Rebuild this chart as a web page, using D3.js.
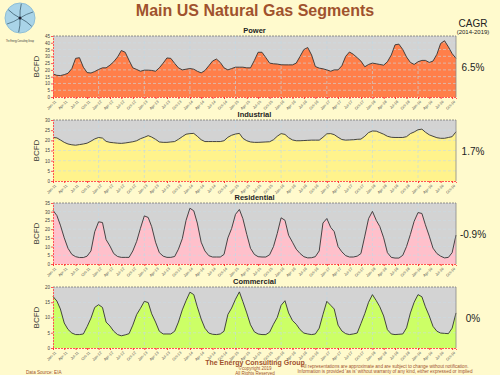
<!DOCTYPE html>
<html>
<head>
<meta charset="utf-8">
<script src="https://cdn.jsdelivr.net/npm/d3@7"></script>
<style>
  body { margin: 0; background: #FFFACD; }
  svg { display: block; font-family: "Liberation Sans", Arial, sans-serif; }
</style>
</head>
<body>
<div id="chart"></div>
<script>
// monthly BCFD, Jan-2011 .. Nov-2019
var power = [17,16,15.8,16.5,17.5,21,28.5,29,22,18,17.7,18.8,
  20.3,21.5,21.5,23.5,26,29.5,34.3,33,27,21.5,20.3,19,
  19.8,19.8,19.6,19,21.5,25,28.8,28.5,24.8,21.5,20,20.5,
  21,20.5,19,17.8,19.5,23,26.5,28,25.5,21.5,20,21,
  22,22,22,21.5,21.5,27,33,33,29,25,24.5,24.3,
  23.8,23.7,23.7,23.7,25,30,35,36.5,31,22.5,21.3,20.8,
  20,19,20,20,23,30,33.2,31.5,29,26.5,22.3,24,
  25,24.5,24,23.5,26,31,38.5,39,35,29.5,25.5,24,
  26,27,27,25.5,26.5,31.5,39.5,41.5,37,32,28.5];
var industrial = [21.4,21.2,20.2,19,18.2,17.8,17.6,17.9,18.2,18.6,19.6,20.7,
  21.4,21.1,19.5,19,18.8,18.6,18.5,18.7,19,19.3,19.8,20.8,
  21.5,22.3,21.6,20.5,19.2,19,19,19.2,19.4,20.5,21.8,23,
  23.3,23.4,22,20.3,19.4,19.4,19.4,19.4,19.4,19.8,21.5,22.5,
  23.1,23.4,21,19.8,19.2,19,19,19.1,19.2,19.3,20.3,22,
  23.3,22.9,21.3,20.2,19.8,19.8,19.9,20,20.1,20.1,20.1,21.5,
  23.2,23.3,22.8,21.5,20.4,20.1,20.2,20.3,20.5,20.6,22,23.8,
  24.6,24.5,23.8,23,22,21.5,21.4,21.4,21.4,21.8,23.3,24.1,
  25.2,25.5,24,22.7,22,21.3,21,21,21.4,21.8,24.2];
var residential = [30.8,27.8,22.3,15,9,5.5,4.2,3.7,3.7,4.5,7.5,18.5,
  24.2,23.8,14,10.3,6,4.3,3.8,3.8,3.8,7.5,13,20.5,
  27.6,26.7,21.4,12.5,6.5,4.5,3.8,3.8,4.3,8.5,14.5,25,
  32,30.5,23.5,12.5,7.5,4.8,4,4,4,5.5,15,20.4,
  28.5,31.3,26,17,9,5.5,4.2,4,4,5.3,10,17.5,
  26.5,25.1,16.5,12.5,8.5,6,4.2,3.5,3.6,4.2,7.5,23.5,
  26.1,21,18.6,10,7,4.8,4,4,4.5,6,16,26,
  30.2,25,21.5,15,6.5,3.8,3.4,3.4,5,10,17,24.5,
  29.5,29,22.5,16,9.1,6,4.5,3.5,3.8,6.5,16.6];
var commercial = [16.9,15.4,12.8,8.2,6.1,4.9,4.4,4.4,4.6,7,9.8,13.3,
  14.2,13.3,8.5,7.2,5.5,4.4,4,4.3,4.7,7.5,11,13,
  15.3,14.9,11.2,8.5,5.5,4.6,4.6,4.6,5.5,8.5,12.5,15.5,
  18.3,17.5,13.5,9.5,6.5,4.9,4.5,4.4,4.6,5.5,11,13.1,
  16,18.4,15.2,11.5,7.6,5.3,4.6,4.4,4.4,5.2,7.8,10,
  14,15.5,11.5,9,7.8,6,4.9,4.6,4.4,4.6,6.5,11,
  15.3,14,12.8,7.5,5.6,4.7,4.4,4.6,4.9,8,11.3,15,
  17.5,15.5,13.5,10.5,6,4.6,4.4,4.5,4.6,6.6,11.5,15,
  17.5,16.8,13.5,10.5,7.1,5.5,4.9,4.8,4.7,6.5,11.5];

var segments = ["Power", "Industrial", "Residential", "Commercial"];
var series = [power, industrial, residential, commercial];
var yMax = [45, 30, 35, 20];
var cagr = ["6.5%", "1.7%", "-0.9%", "0%"];
var fills = ["#FF7F4A", "#FFF38C", "#FFC0CB", "#CCFF66"];
var startMonth = new Date(2011, 0, 1);

var months = power.map(function(d, i) { return d3.timeMonth.offset(startMonth, i); });

var W = 500, H = 375;
var svg = d3.select("#chart").append("svg").attr("width", W).attr("height", H);
svg.append("rect").attr("width", W).attr("height", H).attr("fill", "#FFFACD");

var left = 53, right = 456, panelTop = [36, 120, 203, 287], panelH = 61;

var x = d3.scaleTime()
    .domain([months[0], months[months.length - 1]])
    .range([left, right]);

var quarterTicks = d3.timeMonth.every(3).range(months[0], months[months.length - 1]);
var yearTicks = d3.timeYear.range(months[0], months[months.length - 1]);
var fmt = d3.timeFormat("%b-%y");

// title
svg.append("text").attr("x", 255).attr("y", 16).attr("text-anchor", "middle")
    .style("font-size", "16px").style("font-weight", "bold").attr("fill", "#A0522D")
    .text("Main US Natural Gas Segments");

// logo
var logo = svg.append("g").attr("transform", "translate(20,18)");
logo.append("circle").attr("r", 15).attr("fill", "#A9D4E8").attr("stroke", "#8fbfd6");
for (var k = 0; k < 6; k++) {
  logo.append("path")
      .attr("d", "M0,0 Q6,-4 13,-6")
      .attr("transform", "rotate(" + k * 60 + ")")
      .attr("fill", "none").attr("stroke", "#3a5a6a").attr("stroke-width", 0.7);
}
logo.append("circle").attr("r", 1.5).attr("fill", "#223");
svg.append("text").attr("x", 6).attr("y", 42)
    .attr("textLength", 28).attr("lengthAdjust", "spacingAndGlyphs")
    .style("font-size", "3px").attr("fill", "#333").text("The Energy Consulting Group");

// CAGR header
svg.append("text").attr("x", 473).attr("y", 27).attr("text-anchor", "middle")
    .style("font-size", "10px").attr("fill", "#222").text("CAGR");
svg.append("text").attr("x", 473).attr("y", 34).attr("text-anchor", "middle")
    .style("font-size", "6px").attr("fill", "#222").text("(2014-2019)");

segments.forEach(function(name, p) {
  var top = panelTop[p], bottom = top + panelH;
  var y = d3.scaleLinear().domain([0, yMax[p]]).range([bottom, top]);
  var g = svg.append("g");

  g.append("rect").attr("x", left).attr("y", top)
      .attr("width", right - left).attr("height", panelH).attr("fill", "#D3D3D3");

  var area = d3.area().x(function(d, i) { return x(months[i]); })
      .y0(bottom).y1(function(d) { return y(d); });
  var line = d3.line().x(function(d, i) { return x(months[i]); })
      .y(function(d) { return y(d); });

  g.append("path").datum(series[p]).attr("d", area).attr("fill", fills[p]);

  // grid
  g.selectAll(".hg").data(y.ticks(yMax[p] / 5).slice(1, -1)).enter().append("line")
      .attr("x1", left).attr("x2", right)
      .attr("y1", function(d) { return y(d); }).attr("y2", function(d) { return y(d); })
      .attr("stroke", "#C9DCE6").attr("stroke-width", 0.6).attr("stroke-dasharray", "3,2");
  g.selectAll(".vg").data(yearTicks.slice(1)).enter().append("line")
      .attr("x1", function(d) { return x(d); }).attr("x2", function(d) { return x(d); })
      .attr("y1", top).attr("y2", bottom)
      .attr("stroke", "#BFD8E6").attr("stroke-width", 0.6).attr("stroke-dasharray", "3,2");

  g.append("path").datum(series[p]).attr("d", line)
      .attr("fill", "none").attr("stroke", "#333").attr("stroke-width", 0.9);

  // frame
  g.append("line").attr("x1", left).attr("x2", right).attr("y1", top).attr("y2", top)
      .attr("stroke", "#777").attr("stroke-width", 0.8).attr("stroke-dasharray", "2,1");
  g.append("line").attr("x1", right).attr("x2", right).attr("y1", top).attr("y2", bottom)
      .attr("stroke", "#888").attr("stroke-width", 0.8);

  // y axis
  var ya = g.append("g").attr("transform", "translate(" + left + ",0)")
      .call(d3.axisLeft(y).ticks(yMax[p] / 5).tickSize(2).tickPadding(1));
  ya.select(".domain").attr("stroke", "#FF5555").attr("stroke-dasharray", "2,1");
  ya.selectAll(".tick line").attr("stroke", "#FF5555");
  ya.selectAll("text").style("font-size", "4.5px").attr("fill", "#444");

  // x axis
  var xa = g.append("g").attr("transform", "translate(0," + bottom + ")")
      .call(d3.axisBottom(x).tickValues(quarterTicks).tickFormat(fmt).tickSize(2).tickPadding(1));
  xa.select(".domain").attr("stroke", "#FF5555").attr("stroke-dasharray", "2,1");
  xa.selectAll(".tick line").attr("stroke", "#FF3333");
  xa.selectAll("text").style("font-size", "3.8px").attr("fill", "#555")
      .attr("text-anchor", "end").attr("dy", "0.3em")
      .attr("transform", "translate(0,2) rotate(-45)");

  g.append("text").attr("x", (left + right) / 2).attr("y", top - 3).attr("text-anchor", "middle")
      .style("font-size", "7.5px").style("font-weight", "bold").attr("fill", "#222").text(name);

  g.append("text").attr("transform", "translate(39," + (top + panelH / 2) + ") rotate(-90)")
      .attr("text-anchor", "middle").style("font-size", "8px").attr("fill", "#333").text("BCFD");

  g.append("text").attr("x", 473).attr("y", top + panelH / 2 + 4).attr("text-anchor", "middle")
      .style("font-size", "10px").attr("fill", "#222").text(cagr[p]);
});

// footer
svg.append("text").attr("x", 255).attr("y", 365).attr("text-anchor", "middle")
    .style("font-size", "7px").style("font-weight", "bold").attr("fill", "#A0522D")
    .text("The Energy Consulting Group");
svg.append("text").attr("x", 255).attr("y", 370).attr("text-anchor", "middle")
    .style("font-size", "4.5px").attr("fill", "#A0522D").text("©copyright 2019");
svg.append("text").attr("x", 255).attr("y", 374.5).attr("text-anchor", "middle")
    .style("font-size", "4.5px").attr("fill", "#A0522D").text("All Rights Reserved");
svg.append("text").attr("x", 385).attr("y", 368).attr("text-anchor", "middle")
    .style("font-size", "4.6px").attr("fill", "#A0522D")
    .text("All representations are approximate and are subject to change without notification.");
svg.append("text").attr("x", 385).attr("y", 373).attr("text-anchor", "middle")
    .style("font-size", "4.6px").attr("fill", "#A0522D")
    .text("Information is provided 'as is' without warranty of any kind, either expressed or implied");
svg.append("text").attr("x", 26).attr("y", 374).attr("text-anchor", "start")
    .style("font-size", "4.6px").attr("fill", "#A0522D").text("Data Source: EIA");
</script>
</body>
</html>
